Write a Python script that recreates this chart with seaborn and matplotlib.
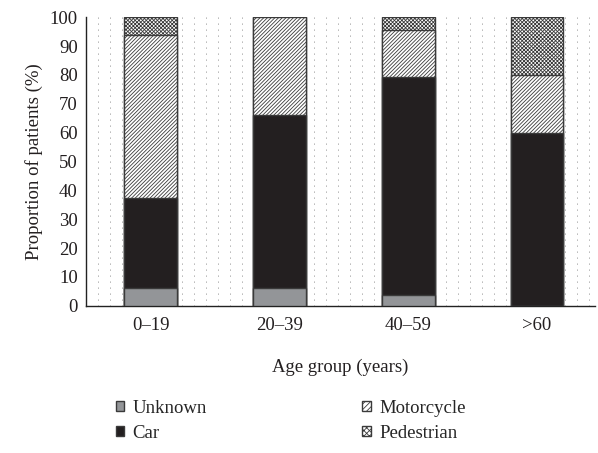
import numpy as np
import pandas as pd
import matplotlib
matplotlib.use('Agg')
import matplotlib.pyplot as plt
from matplotlib.patches import Patch
import seaborn as sns

# Data (percent of patients per age group)
age_groups = ['0–19', '20–39', '40–59', '>60']
unknown = [6.25, 6.2, 3.8, 0.0]
car = [31.25, 59.8, 75.4, 60.0]
motorcycle = [56.25, 34.0, 16.3, 20.0]
pedestrian = [6.25, 0.0, 4.5, 20.0]

sns.set_theme(style='white')
plt.rcParams['font.family'] = ['Liberation Serif', 'DejaVu Serif']
plt.rcParams['hatch.linewidth'] = 0.6

df = pd.DataFrame({'age': age_groups, 'Unknown': unknown, 'Car': car,
                   'Motorcycle': motorcycle, 'Pedestrian': pedestrian})
df['c_unknown'] = df['Unknown']
df['c_car'] = df['c_unknown'] + df['Car']
df['c_motor'] = df['c_car'] + df['Motorcycle']
df['c_ped'] = df['c_motor'] + df['Pedestrian']

fig = plt.figure(figsize=(5.98, 4.53), dpi=100)
ax = fig.add_axes([0.144, 0.325, 0.851, 0.637])

edge = '#3a3a3a'
text_col = '#231f20'
fs = 13.5
layers = [
    ('c_ped', 'white', 'xxxxxxxxx', 'Pedestrian'),
    ('c_motor', 'white', '/////////', 'Motorcycle'),
    ('c_car', '#231f20', None, 'Car'),
    ('c_unknown', '#939598', None, 'Unknown'),
]
for col, fc, hatch, name in layers:
    sns.barplot(data=df, x='age', y=col, color=fc, width=0.41,
                edgecolor=edge, linewidth=1.0, hatch=hatch,
                saturation=1, ax=ax, zorder=3)

ax.set_xlim(-0.5, 3.45)
ax.set_ylim(0, 100)
ax.set_yticks(np.arange(0, 101, 10))

# dotted vertical background lines
for xv in np.arange(-0.5 + 12 / 129, 3.45, 12 / 129):
    ax.axvline(xv, color='#666666', lw=0.6, linestyle=(0, (1, 6.2)), zorder=1)

for s in ['top', 'right']:
    ax.spines[s].set_visible(False)
for s in ['left', 'bottom']:
    ax.spines[s].set_color('#222222')
    ax.spines[s].set_linewidth(1.0)
ax.tick_params(axis='both', length=0, labelsize=fs, colors=text_col)
ax.tick_params(axis='x', pad=8)
ax.tick_params(axis='y', pad=6)
ax.set_xlabel('Age group (years)', fontsize=fs, color=text_col, labelpad=18)
ax.set_ylabel('Proportion of patients (%)', fontsize=fs, color=text_col, labelpad=5)

handles = [
    Patch(facecolor='#939598', edgecolor=edge, label='Unknown'),
    Patch(facecolor='#231f20', edgecolor=edge, label='Car'),
    Patch(facecolor='white', edgecolor=edge, hatch='//////', label='Motorcycle'),
    Patch(facecolor='white', edgecolor=edge, hatch='xxxxxx', label='Pedestrian'),
]
fig.legend(handles=handles, ncol=2, loc='upper left', bbox_to_anchor=(0.165, 0.155),
           frameon=False, fontsize=fs, handlelength=0.45, handleheight=0.45,
           handletextpad=0.45, columnspacing=8.3, labelspacing=0.42,
           bbox_transform=fig.transFigure)

fig.savefig('out.png', dpi=100)
